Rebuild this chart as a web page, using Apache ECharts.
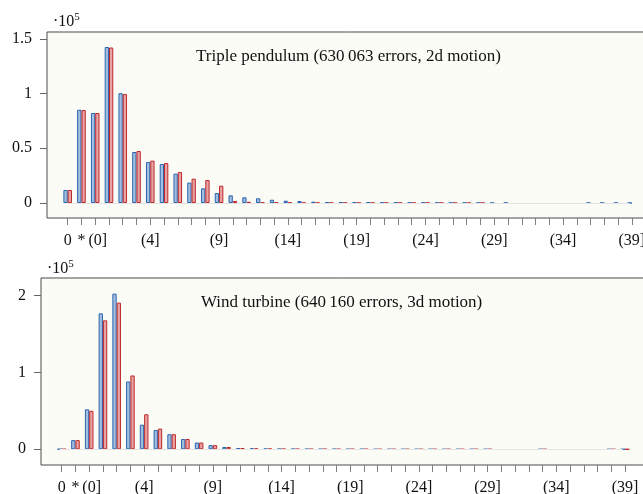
<!DOCTYPE html>
<html>
<head>
<meta charset="utf-8">
<script src="https://cdn.jsdelivr.net/npm/echarts@6/dist/echarts.min.js"></script>
<style>
  html, body { margin: 0; padding: 0; background: #ffffff; }
  #chart { width: 643px; height: 494px; }
</style>
</head>
<body>
<div id="chart"></div>
<script>
// Error-size bins: exact zero, unknown, then (k] intervals
const categories = ['0', '*', '(0]', '(1]', '(2]', '(3]', '(4]', '(5]', '(6]', '(7]', '(8]', '(9]',
  '(10]', '(11]', '(12]', '(13]', '(14]', '(15]', '(16]', '(17]', '(18]', '(19]',
  '(20]', '(21]', '(22]', '(23]', '(24]', '(25]', '(26]', '(27]', '(28]', '(29]',
  '(30]', '(31]', '(32]', '(33]', '(34]', '(35]', '(36]', '(37]', '(38]', '(39]'];
// Bins that carry a text label under the axis
const labelledBins = [0, 1, 2, 6, 11, 16, 21, 26, 31, 36, 41];

// Counts in units of 1e5 (null = empty bin)
const pendulumBlue = [0.119, 0.852, 0.822, 1.425, 1.003, 0.466, 0.374, 0.356, 0.268, 0.186, 0.134, 0.091,
  0.070, 0.052, 0.043, 0.030, 0.021, 0.018, 0.012, 0.009, 0.007, 0.006,
  0.005, 0.004, 0.004, 0.003, 0.003, 0.002, 0.002, 0.002, 0.001, 0.001,
  0.001, null, null, null, null, null, 0.0005, 0.0005, 0.0005, 0.0005];
const pendulumRed = [0.119, 0.849, 0.822, 1.420, 0.995, 0.475, 0.387, 0.365, 0.283, 0.222, 0.210, 0.158,
  0.018, 0.011, 0.005, 0.004, 0.003, 0.002, 0.002, 0.001, 0.001, 0.001,
  0.001, 0.001, 0.001, 0.0008, 0.0008, 0.0008, 0.0006, 0.0006, 0.0006, null,
  null, null, null, null, null, null, null, null, null, null];
const turbineBlue = [0.002, 0.119, 0.519, 1.766, 2.022, 0.881, 0.320, 0.250, 0.196, 0.134, 0.088, 0.054,
  0.030, 0.017, 0.013, 0.008, 0.006, 0.005, 0.004, 0.003, 0.003, 0.002,
  0.002, 0.001, 0.001, 0.001, 0.001, 0.001, 0.001, 0.001, 0.001, 0.001,
  null, null, null, 0.0005, null, null, null, null, 0.0005, 0.0005];
const turbineRed = [0.002, 0.119, 0.500, 1.675, 1.905, 0.959, 0.455, 0.269, 0.196, 0.134, 0.088, 0.054,
  0.030, 0.017, 0.012, 0.007, 0.005, 0.004, 0.003, 0.003, 0.002, 0.002,
  0.002, 0.001, 0.001, 0.001, 0.001, 0.001, 0.001, 0.001, 0.001, 0.001,
  null, null, null, 0.0005, null, null, null, null, 0.0005, 0.0005];

const yTicksTop = [0, 0.5, 1, 1.5];
const yTicksBottom = [0, 1, 2];
const titleTop = 'Triple pendulum (630\u2009063 errors, 2d motion)';
const titleBottom = 'Wind turbine (640\u2009160 errors, 3d motion)';

const serif = "'Liberation Serif', 'Times New Roman', 'DejaVu Serif', serif";
const binIndices = categories.map((_, i) => i);

function pairs(values) {
  const out = [];
  values.forEach((v, i) => { if (v !== null) out.push([i, v]); });
  return out;
}

const blueStyle = { color: '#a2bfe0', borderColor: '#2c64ae', borderWidth: 1 };
const redStyle = { color: '#e7a4a4', borderColor: '#c0282b', borderWidth: 1 };

function xAxis(gridIndex, min, max) {
  return {
    type: 'value', gridIndex, min, max,
    axisLine: { show: false, onZero: false },
    splitLine: { show: false },
    axisTick: { show: true, length: 7, customValues: binIndices, lineStyle: { color: '#808080' } },
    axisLabel: {
      customValues: labelledBins, margin: 15,
      // the first interval label sits a little clear of the '*' bin
      formatter: v => {
        const i = Math.round(v);
        return i === 2 ? '{gap|' + categories[i] + '}' : categories[i];
      },
      rich: { gap: { fontFamily: serif, fontSize: 16, color: '#111', padding: [0, 0, 0, 5] } },
      fontFamily: serif, fontSize: 16, color: '#111'
    }
  };
}

function yAxis(gridIndex, min, max, ticks, gap) {
  return {
    type: 'value', gridIndex, min, max,
    name: '{m|\u00b710}{s|5}',
    nameLocation: 'end', nameGap: gap,
    nameTextStyle: {
      align: 'left', verticalAlign: 'bottom', padding: [0, 0, 0, 6],
      rich: {
        m: { fontFamily: serif, fontSize: 16, color: '#111' },
        s: { fontFamily: serif, fontSize: 11, color: '#111', padding: [0, 0, 9, 0] }
      }
    },
    axisLine: { show: false, onZero: false },
    splitLine: { show: false },
    axisTick: { show: true, length: 7, customValues: ticks, lineStyle: { color: '#666' } },
    axisLabel: {
      customValues: ticks, margin: 15,
      fontFamily: serif, fontSize: 16, color: '#111'
    }
  };
}

function zeroLine() {
  return {
    silent: true, symbol: 'none', label: { show: false },
    lineStyle: { color: '#e4e4e4', width: 1, type: 'solid' },
    data: [[{ coord: [0, 0] }, { coord: [categories.length - 1, 0] }]]
  };
}

function bars(name, values, axisIndex, style, withLine) {
  const s = {
    name, type: 'bar', xAxisIndex: axisIndex, yAxisIndex: axisIndex,
    data: pairs(values), barWidth: 4.3, barGap: '0%',
    itemStyle: style, animation: false
  };
  if (withLine) s.markLine = zeroLine();
  return s;
}

const titleFont = { fontFamily: serif, fontSize: 17, fontWeight: 'normal', color: '#111' };

const chart = echarts.init(document.getElementById('chart'), null, { renderer: 'canvas' });
chart.setOption({
  animation: false,
  backgroundColor: '#ffffff',
  title: [
    { text: titleTop, left: 191, top: 43, textStyle: titleFont },
    { text: titleBottom, left: 196, top: 289, textStyle: titleFont }
  ],
  grid: [
    { left: 47, top: 32, width: 600, height: 186, outerBoundsMode: 'none', containLabel: false,
      show: true, backgroundColor: '#fcfcf7', borderColor: '#4a4a4a', borderWidth: 1 },
    { left: 41, top: 278, width: 606, height: 187, outerBoundsMode: 'none', containLabel: false,
      show: true, backgroundColor: '#fcfcf7', borderColor: '#4a4a4a', borderWidth: 1 }
  ],
  xAxis: [xAxis(0, -1.504, 42.10), xAxis(1, -1.507, 42.60)],
  yAxis: [yAxis(0, -0.137, 1.562, yTicksTop, 0), yAxis(1, -0.204, 2.225, yTicksBottom, -1)],
  series: [
    bars('pendulum A', pendulumBlue, 0, blueStyle, true),
    bars('pendulum B', pendulumRed, 0, redStyle, false),
    bars('turbine A', turbineBlue, 1, blueStyle, true),
    bars('turbine B', turbineRed, 1, redStyle, false)
  ]
});
</script>
</body>
</html>
